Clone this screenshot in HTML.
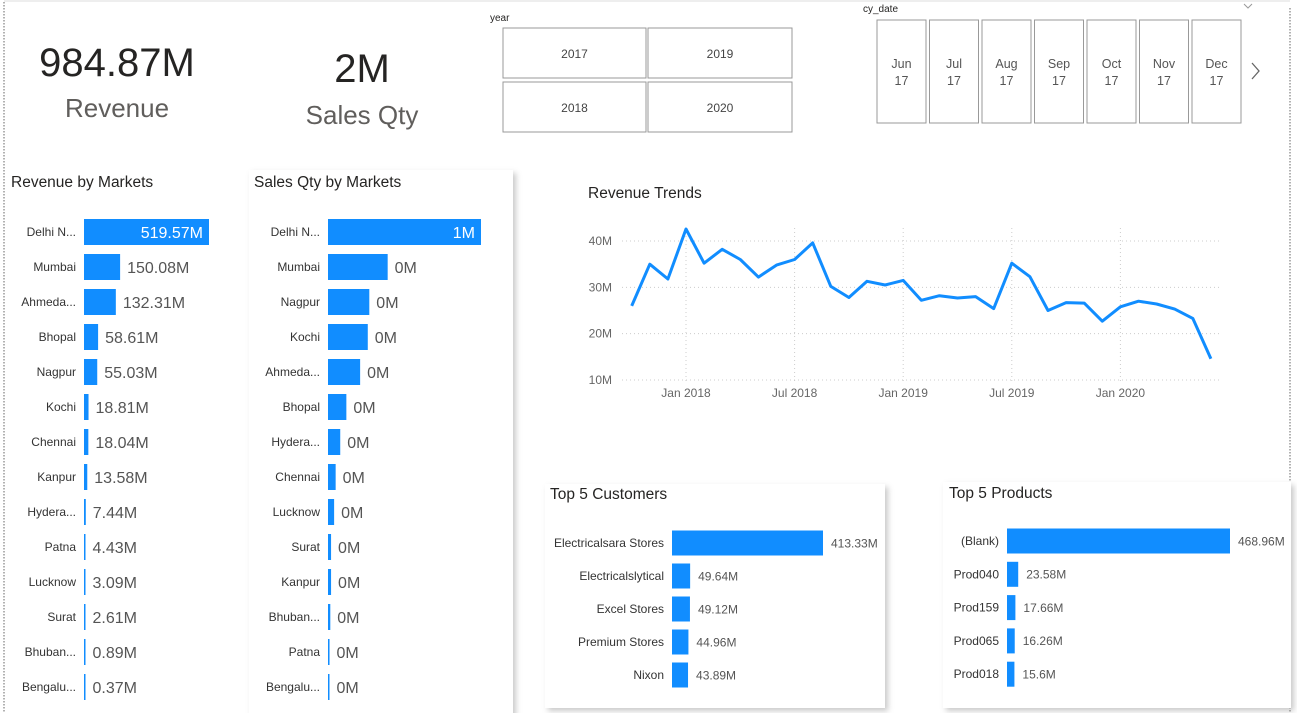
<!DOCTYPE html>
<html><head><meta charset="utf-8"><style>
body{margin:0;background:#fff;font-family:"Liberation Sans",sans-serif;}
svg text{font-family:"Liberation Sans",sans-serif;}
</style></head><body>
<svg id="root" width="1297" height="713" xmlns="http://www.w3.org/2000/svg">
<defs>
<filter id="sh" x="-10%" y="-10%" width="125%" height="125%"><feDropShadow dx="3" dy="3" stdDeviation="3" flood-color="#888" flood-opacity="0.45"/></filter>
</defs>
<rect x="0" y="0" width="1297" height="713" fill="#fff"/>
<line x1="4" y1="2" x2="4" y2="713" stroke="#666" stroke-dasharray="1.5 1.5"/>
<line x1="1290" y1="8" x2="1290" y2="713" stroke="#666" stroke-dasharray="1.5 1.5"/>
<line x1="4" y1="1" x2="1290" y2="1" stroke="#ddd"/>

<g>
<text x="117" y="76" font-size="40" text-anchor="middle" fill="#252423">984.87M</text>
<text x="117" y="117" font-size="26" text-anchor="middle" fill="#605e5c">Revenue</text>
</g>
<g>
<text x="362" y="82" font-size="40" text-anchor="middle" fill="#252423">2M</text>
<text x="362" y="124" font-size="26" text-anchor="middle" fill="#605e5c">Sales Qty</text>
</g>

<g>
<text x="490" y="21" font-size="10" fill="#252423">year</text>
<g><rect x="503" y="28" width="143" height="50" fill="#fff" stroke="#999"/><text x="574.5" y="58" font-size="12" text-anchor="middle" fill="#444">2017</text></g>
<g><rect x="648" y="28" width="144" height="50" fill="#fff" stroke="#999"/><text x="720" y="58" font-size="12" text-anchor="middle" fill="#444">2019</text></g>
<g><rect x="503" y="82" width="143" height="50" fill="#fff" stroke="#999"/><text x="574.5" y="112" font-size="12" text-anchor="middle" fill="#444">2018</text></g>
<g><rect x="648" y="82" width="144" height="50" fill="#fff" stroke="#999"/><text x="720" y="112" font-size="12" text-anchor="middle" fill="#444">2020</text></g>
</g>

<g id="dateSlicer">
<text x="863" y="12" font-size="10" fill="#252423">cy_date</text>
<path d="M1244 4 l4 4 l4 -4" fill="none" stroke="#999"/>
<path d="M1252 63 l7 8 l-7 8" fill="none" stroke="#666" stroke-width="1.3"/>
</g>

<!-- Revenue by markets -->
<rect x="5" y="170" width="240" height="545" fill="#fff"/>
<text x="11" y="187" font-size="15.5" fill="#252423">Revenue by Markets</text>
<g id="revBars"></g>

<rect x="249" y="170" width="264" height="545" fill="#fff" filter="url(#sh)"/>
<text x="254" y="187" font-size="15.5" fill="#252423">Sales Qty by Markets</text>
<g id="qtyBars"></g>

<!-- Revenue trends -->
<text x="588" y="198" font-size="15.5" fill="#252423">Revenue Trends</text>
<g id="trend"></g>

<rect x="545" y="484" width="340" height="224" fill="#fff" filter="url(#sh)"/>
<text x="550" y="499" font-size="15.5" fill="#252423">Top 5 Customers</text>
<g id="custBars"></g>

<rect x="943" y="482" width="348" height="226" fill="#fff" filter="url(#sh)"/>
<text x="949" y="498" font-size="15.5" fill="#252423">Top 5 Products</text>
<g id="prodBars"></g>
</svg>
<script>
const NS="http://www.w3.org/2000/svg";
const dateLabels=["Jun","Jul","Aug","Sep","Oct","Nov","Dec"];
const revMarkets=["Delhi N...","Mumbai","Ahmeda...","Bhopal","Nagpur","Kochi","Chennai","Kanpur","Hydera...","Patna","Lucknow","Surat","Bhuban...","Bengalu..."];
const revValues=[519.57,150.08,132.31,58.61,55.03,18.81,18.04,13.58,7.44,4.43,3.09,2.61,0.89,0.37];
const qtyMarkets=["Delhi N...","Mumbai","Nagpur","Kochi","Ahmeda...","Bhopal","Hydera...","Chennai","Lucknow","Surat","Kanpur","Bhuban...","Patna","Bengalu..."];
const qtyValues=[1000000,390000,270000,260000,210000,120000,80000,50000,40000,20000,20000,15000,10000,5000];
const custNames=["Electricalsara Stores","Electricalslytical","Excel Stores","Premium Stores","Nixon"];
const custValues=[413.33,49.64,49.12,44.96,43.89];
const prodNames=["(Blank)","Prod040","Prod159","Prod065","Prod018"];
const prodValues=[468.96,23.58,17.66,16.26,15.6];
const trendMonths=["2017-10","2017-11","2017-12","2018-01","2018-02","2018-03","2018-04","2018-05","2018-06","2018-07","2018-08","2018-09","2018-10","2018-11","2018-12","2019-01","2019-02","2019-03","2019-04","2019-05","2019-06","2019-07","2019-08","2019-09","2019-10","2019-11","2019-12","2020-01","2020-02","2020-03","2020-04","2020-05","2020-06"];
const trendValues=[26,35,31.8,42.6,35.2,38.2,36,32.2,34.8,36,39.6,30.2,27.8,31.3,30.5,31.5,27.2,28.2,27.7,28,25.4,35.2,32.3,25,26.7,26.6,22.7,25.8,27,26.4,25.3,23.3,14.6];
const yTicks=[10,20,30,40];
const xTicks=[["2018-01","Jan 2018"],["2018-07","Jul 2018"],["2019-01","Jan 2019"],["2019-07","Jul 2019"],["2020-01","Jan 2020"]];

function mk(tag,attrs,parent,txt){const e=document.createElementNS(NS,tag);for(const k in attrs)e.setAttribute(k,attrs[k]);if(txt!==undefined)e.textContent=txt;parent.appendChild(e);return e;}

// date slicer tiles
const ds=document.getElementById('dateSlicer');
dateLabels.forEach((m,i)=>{const x=877+i*52.5;
const g=mk('g',{},ds);


mk('rect',{x:x,y:20,width:49,height:103,fill:'#fff',stroke:'#999'},g);
mk('text',{x:x+24.5,y:68,'font-size':12.5,'text-anchor':'middle',fill:'#555'},g,m);
mk('text',{x:x+24.5,y:85,'font-size':12.5,'text-anchor':'middle',fill:'#555'},g,'17');});

function bars(id,names,vals,o){
const g=document.getElementById(id);const max=Math.max(...vals);
names.forEach((n,i)=>{const y=o.y0+i*o.step;const w=Math.max(1.5,vals[i]/max*o.w);
const lab=mk('text',{x:o.x-8,y:y+4,'font-size':o.lfs,'text-anchor':'end',fill:'#333'},g,n);


const r=mk('rect',{x:o.x,y:y-o.h/2,width:w,height:o.h,fill:'#118dff'},g);


const t=o.fmt(vals[i]);let v;
if(w>o.w*0.6&&o.inside){v=mk('text',{x:o.x+w-6,y:y+o.vfs*0.36,'font-size':o.vfs,'text-anchor':'end',fill:'#fff'},g,t);}
else v=mk('text',{x:o.x+w+o.gap,y:y+o.vfs*0.36,'font-size':o.vfs,fill:'#555'},g,t);

});}
bars('revBars',revMarkets,revValues,{x:84,w:125,y0:232,step:35,h:26,lfs:12,vfs:16,gap:7,inside:true,pre:'revenue-market',fmt:v=>v.toFixed(2)+'M'});
bars('qtyBars',qtyMarkets,qtyValues,{x:328,w:153,y0:232,step:35,h:26,lfs:12,vfs:16,gap:7,inside:true,pre:'qty-market',fmt:v=>Math.round(v/1e6)+'M'});
bars('custBars',custNames,custValues,{x:672,w:151,y0:543,step:33,h:25,lfs:12,vfs:12,gap:8,inside:false,pre:'customer',fmt:v=>v.toFixed(2)+'M'});
bars('prodBars',prodNames,prodValues,{x:1007,w:223,y0:541,step:33.3,h:25,lfs:12,vfs:12,gap:8,inside:false,pre:'product',fmt:v=>(Math.round(v*100)/100)+'M'});

// trend
const tg=document.getElementById('trend');
const mIdx=s=>{const [y,m]=s.split('-').map(Number);return y*12+m-1;};
const x0=mIdx("2018-01");
const xS=s=>686+(mIdx(s)-x0)*18.1;
const yS=v=>380-(v-10)*(139/30);
yTicks.forEach(t=>{const l=mk('line',{x1:622,x2:1222,y1:yS(t),y2:yS(t),stroke:'#ccc','stroke-dasharray':'1 3'},tg);


const tx=mk('text',{x:612,y:yS(t)+4,'font-size':12,'text-anchor':'end',fill:'#666'},tg,t+'M');

});
xTicks.forEach(([d,l])=>{const x=xS(d);
const gl=mk('line',{x1:x,x2:x,y1:228,y2:382,stroke:'#ccc','stroke-dasharray':'1 3'},tg);


const tx=mk('text',{x:x,y:397,'font-size':12,'text-anchor':'middle',fill:'#666'},tg,l);

});
const pts=trendMonths.map((m,i)=>xS(m).toFixed(1)+','+yS(trendValues[i]).toFixed(1)).join(' ');
const pl=mk('polyline',{points:pts,fill:'none',stroke:'#118dff','stroke-width':3,'stroke-linejoin':'round'},tg);


</script>
</body></html>
